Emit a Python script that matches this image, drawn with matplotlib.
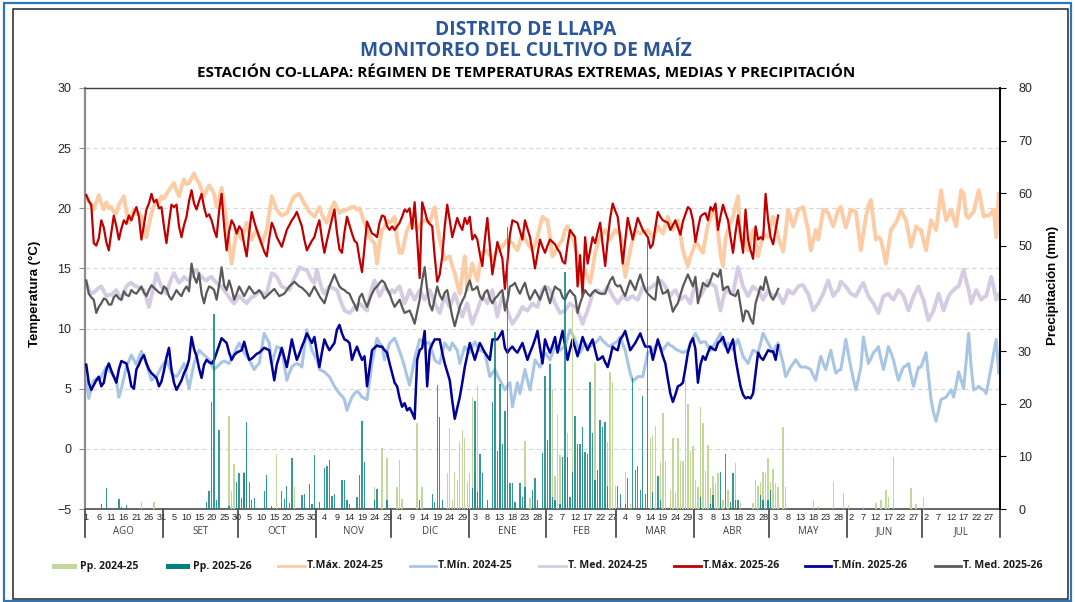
import matplotlib
matplotlib.use("Agg")
import matplotlib.pyplot as plt
from matplotlib.lines import Line2D
from matplotlib.patches import Rectangle
import numpy as np

# ---------------- data ----------------
months = ["AGO", "SET", "OCT", "NOV", "DIC", "ENE", "FEB", "MAR", "ABR", "MAY", "JUN", "JUL"]
month_days = [31, 30, 31, 30, 31, 31, 28, 31, 30, 31, 30, 31]

tmax_2425 = [
    21.0, 20.6, 20.2, 19.9, 20.5, 21.1, 20.4, 19.9, 20.5, 20.0, 20.1, 19.7, 19.6, 20.3, 20.6, 21.0, 19.8, 18.8, 19.4, 19.9, 19.5, 19.6, 19.3, 18.4, 17.6, 18.6, 19.6, 20.2, 20.7, 20.5, 21.0,
    20.8, 21.2, 21.5, 21.8, 22.1, 21.5, 21.0, 21.8, 22.4, 22.0, 22.1, 22.5, 22.9, 22.4, 22.1, 21.5, 21.0, 21.5, 21.9, 21.6, 21.2, 20.1, 20.8, 21.7, 20.3, 18.8, 17.0, 15.4, 16.8, 18.2,
    17.8, 17.4, 18.1, 18.8, 18.0, 17.4, 17.9, 18.2, 17.6, 17.0, 17.6, 18.2, 19.6, 21.0, 20.4, 19.9, 19.6, 19.4, 19.5, 19.6, 20.1, 20.6, 21.0, 21.1, 21.2, 20.8, 20.4, 20.1, 19.7, 19.5, 19.3,
    19.7, 20.1, 19.5, 19.1, 18.8, 19.5, 20.1, 20.5, 20.0, 19.6, 19.8, 19.8, 19.9, 20.0, 20.1, 20.1, 19.9, 20.0, 19.4, 18.8, 18.2, 17.6, 17.3, 17.1, 15.4, 17.1, 18.2, 18.4, 19.0, 18.8,
    19.0, 19.3, 17.5, 16.3, 16.3, 17.3, 18.2, 18.6, 19.0, 18.6, 18.2, 18.6, 18.9, 19.0, 18.9, 18.8, 19.5, 20.1, 18.6, 17.4, 16.5, 15.7, 15.9, 16.0, 15.2, 14.6, 13.7, 12.9, 14.5, 16.0, 13.2,
    14.3, 15.4, 14.7, 14.0, 15.2, 16.3, 16.4, 16.5, 16.1, 15.7, 16.1, 16.5, 16.7, 16.8, 17.1, 17.4, 17.2, 17.1, 16.8, 16.5, 17.2, 17.9, 17.5, 17.1, 16.8, 16.5, 17.0, 17.6, 18.5, 19.3, 19.1,
    19.0, 17.5, 16.0, 16.4, 16.8, 17.1, 17.4, 18.2, 18.5, 18.0, 17.6, 16.8, 16.0, 13.8, 14.3, 14.9, 14.3, 13.8, 15.0, 16.3, 17.0, 17.6, 17.9, 18.2, 17.8, 17.4, 17.8, 18.2,
    18.0, 17.9, 16.1, 14.3, 15.4, 16.5, 17.4, 18.2, 18.0, 17.9, 18.0, 18.1, 18.2, 17.9, 17.6, 18.0, 18.5, 18.2, 17.9, 18.6, 19.3, 18.7, 18.2, 18.6, 19.0, 17.8, 16.5, 15.8, 15.2, 16.0, 16.5,
    17.1, 17.0, 16.6, 16.3, 17.5, 18.6, 19.3, 19.6, 19.9, 18.0, 16.2, 15.2, 17.5, 18.2, 18.8, 19.3, 20.2, 21.0, 17.4, 17.9, 17.1, 16.5, 17.3, 18.2, 17.1, 16.0, 17.0, 17.9, 17.7, 17.6,
    18.5, 19.3, 18.5, 17.6, 17.0, 16.4, 18.1, 19.9, 19.2, 18.5, 19.2, 19.9, 20.0, 20.1, 19.1, 18.2, 16.5, 17.3, 18.2, 17.4, 18.6, 19.9, 19.8, 19.6, 19.0, 18.5, 19.2, 19.9, 20.1, 19.2, 18.4,
    19.1, 19.9, 19.8, 19.7, 18.1, 16.5, 17.9, 19.3, 20.2, 20.7, 19.0, 17.4, 17.6, 17.4, 16.4, 15.4, 16.8, 18.2, 18.5, 18.8, 19.3, 19.9, 19.4, 19.0, 17.9, 16.8, 17.6, 18.5, 18.3, 18.2,
    17.3, 16.5, 17.8, 19.0, 18.6, 18.2, 19.8, 21.5, 20.2, 19.0, 19.4, 19.9, 19.2, 18.5, 20.0, 21.5, 21.2, 19.4, 19.2, 19.5, 19.7, 20.6, 21.5, 20.4, 19.3, 19.4, 19.4, 19.6, 19.9, 17.6, 21.2,
]

tmin_2425 = [
    5.7, 4.2, 5.0, 5.7, 5.8, 5.7, 6.0, 6.4, 6.8, 6.5, 6.3, 6.0, 5.7, 4.3, 5.0, 5.9, 6.8, 7.3, 7.8, 7.4, 7.0, 7.6, 8.1, 7.6, 7.1, 6.4, 5.7, 5.9, 6.0, 6.4, 6.8,
    7.1, 7.4, 6.9, 6.3, 6.1, 6.0, 6.3, 6.7, 7.1, 6.0, 5.0, 6.1, 7.1, 7.7, 8.2, 8.0, 7.8, 7.6, 7.4, 7.0, 6.6, 6.8, 7.0, 7.2, 7.3, 7.2, 7.1, 7.5, 7.9, 8.4,
    8.8, 8.4, 8.0, 7.7, 7.4, 7.0, 6.6, 6.9, 7.1, 8.4, 9.6, 9.2, 8.8, 7.1, 7.8, 8.5, 8.4, 8.2, 7.0, 5.7, 6.3, 6.8, 7.0, 7.1, 7.0, 6.8, 8.4, 9.9, 9.0, 8.2, 7.8,
    7.4, 6.6, 6.5, 6.4, 6.2, 6.0, 5.6, 5.2, 4.9, 4.6, 4.4, 4.1, 3.2, 3.8, 4.3, 4.6, 4.8, 4.6, 4.3, 4.2, 4.1, 5.6, 7.1, 8.2, 9.2, 8.8, 8.5, 7.4, 8.1, 8.8,
    9.0, 9.2, 8.7, 8.1, 7.5, 6.8, 6.0, 5.3, 6.4, 7.5, 8.3, 9.1, 9.0, 8.9, 8.8, 8.8, 8.1, 7.4, 7.2, 7.1, 8.0, 8.8, 8.5, 8.2, 8.8, 8.5, 8.2, 7.1, 7.8, 8.5, 8.2,
    8.0, 8.5, 8.9, 8.5, 8.2, 8.1, 8.0, 7.0, 6.0, 6.3, 6.6, 6.1, 5.7, 5.3, 4.9, 5.2, 5.5, 3.5, 4.5, 5.5, 4.6, 5.6, 6.6, 5.7, 4.9, 6.1, 7.4, 7.1, 6.8, 7.4, 8.0,
    7.7, 7.4, 8.0, 8.5, 8.3, 8.2, 8.4, 8.5, 9.2, 9.9, 9.5, 9.1, 8.5, 8.0, 8.4, 8.8, 8.6, 8.5, 8.7, 8.8, 9.0, 9.3, 9.0, 8.8, 8.6, 8.5, 8.7, 8.8,
    9.0, 9.3, 8.7, 8.2, 7.2, 6.3, 5.6, 5.8, 6.0, 6.0, 6.0, 7.0, 8.0, 8.1, 8.2, 8.5, 8.8, 8.5, 8.2, 8.5, 8.8, 8.6, 8.5, 8.3, 8.2, 8.1, 8.0, 8.1, 8.2, 8.8, 9.2,
    9.6, 9.2, 8.8, 8.9, 8.9, 8.5, 8.2, 8.5, 8.8, 9.2, 9.6, 8.8, 8.5, 8.8, 8.5, 8.2, 8.7, 9.1, 8.4, 7.7, 7.4, 7.1, 7.7, 8.2, 8.1, 8.0, 8.8, 9.6, 9.2, 8.8,
    8.4, 8.0, 8.5, 8.8, 7.9, 7.1, 6.0, 6.4, 6.8, 7.1, 7.4, 7.1, 6.8, 6.8, 6.8, 6.7, 6.6, 6.1, 5.7, 6.7, 7.7, 7.1, 6.6, 7.4, 8.2, 7.2, 6.3, 6.5, 6.6, 7.8, 9.1,
    7.9, 6.8, 5.8, 4.9, 5.8, 6.8, 9.3, 8.2, 7.1, 7.5, 8.0, 8.2, 8.5, 7.5, 6.6, 7.5, 8.5, 8.0, 7.4, 6.5, 5.7, 6.3, 6.8, 6.9, 7.1, 6.1, 5.2, 6.0, 6.8, 6.8,
    7.4, 8.0, 6.0, 4.1, 3.0, 2.3, 3.2, 4.1, 4.2, 4.3, 4.6, 4.9, 4.3, 5.3, 6.4, 5.7, 5.0, 7.3, 9.6, 6.8, 4.9, 5.0, 5.2, 5.0, 4.9, 4.6, 5.7, 6.8, 8.0, 9.1, 6.3,
]

tmed_2425 = [
    13.8, 13.3, 12.9, 13.0, 13.2, 13.4, 13.5, 13.1, 12.7, 12.8, 12.8, 13.0, 13.2, 12.8, 12.4, 13.0, 13.5, 13.7, 13.8, 13.6, 13.5, 13.4, 13.3, 13.2, 12.5, 11.8, 12.7, 13.6, 14.6, 14.0, 13.5,
    13.2, 12.9, 13.6, 14.2, 14.6, 14.2, 13.8, 14.0, 14.3, 14.1, 14.0, 14.4, 14.7, 14.9, 14.5, 14.3, 14.1, 14.0, 14.2, 14.3, 14.0, 13.8, 13.6, 13.5, 13.2, 12.9, 12.6, 12.3, 12.1, 12.4,
    12.7, 12.5, 12.3, 12.1, 12.4, 12.6, 12.7, 12.9, 13.1, 13.0, 12.9, 12.9, 13.8, 14.6, 14.5, 14.3, 13.9, 13.5, 13.4, 13.3, 13.2, 13.7, 14.2, 14.6, 15.1, 15.0, 14.9, 14.9, 14.4, 14.0, 13.8,
    14.9, 14.0, 13.3, 12.9, 13.2, 13.5, 13.4, 13.3, 13.2, 12.6, 12.0, 11.5, 11.4, 11.3, 11.5, 11.8, 11.9, 12.1, 11.9, 11.7, 11.5, 12.5, 13.4, 14.0, 13.3, 12.7, 13.1, 13.5, 13.2, 12.9,
    13.2, 13.0, 13.3, 13.5, 12.8, 12.1, 12.6, 13.2, 12.8, 12.4, 12.8, 13.2, 12.8, 12.4, 12.8, 13.2, 12.7, 12.1, 11.7, 11.3, 12.0, 12.7, 12.2, 11.8, 12.3, 12.9, 12.3, 11.6, 11.0, 11.6, 12.1,
    11.2, 10.4, 11.0, 11.5, 12.1, 12.7, 12.4, 12.1, 12.7, 13.2, 12.1, 11.0, 11.9, 12.7, 12.1, 11.5, 10.9, 10.4, 10.7, 11.0, 11.4, 11.8, 11.6, 11.5, 11.8, 12.1, 11.9, 11.8, 12.5, 13.2, 13.5,
    13.4, 13.2, 12.6, 12.1, 11.7, 11.3, 11.4, 11.5, 11.8, 12.1, 11.9, 11.8, 11.4, 11.0, 10.4, 11.0, 11.5, 12.2, 12.9, 13.1, 13.2, 13.0, 12.9, 13.2, 13.5, 13.1, 12.7, 12.4,
    12.1, 12.4, 12.7, 12.5, 12.4, 12.6, 12.7, 12.5, 12.4, 12.9, 13.5, 13.3, 13.2, 13.4, 13.5, 13.7, 13.8, 14.0, 13.8, 13.5, 13.1, 12.7, 13.0, 13.2, 12.8, 12.4, 12.6, 12.7, 12.4, 12.1, 13.0,
    13.5, 13.1, 12.7, 13.1, 13.5, 14.0, 13.8, 13.6, 13.5, 12.5, 11.5, 12.4, 13.2, 13.1, 13.0, 12.9, 14.0, 15.1, 14.3, 13.5, 13.1, 12.7, 13.1, 13.5, 13.3, 13.2, 12.8, 12.4, 12.8, 13.2,
    12.9, 12.7, 12.8, 12.9, 12.5, 12.1, 12.6, 13.2, 13.0, 12.9, 13.2, 13.5, 13.6, 13.6, 13.2, 12.9, 12.2, 11.5, 11.8, 12.1, 12.5, 12.9, 13.5, 14.0, 13.3, 12.7, 13.0, 13.2, 13.9, 13.7, 13.5,
    13.2, 12.9, 12.8, 12.7, 13.1, 13.5, 13.8, 13.2, 12.7, 12.4, 12.1, 11.7, 11.3, 12.0, 12.7, 12.8, 12.9, 12.6, 12.4, 12.8, 13.2, 13.0, 12.7, 12.1, 11.5, 12.1, 12.7, 13.1, 13.5, 12.9,
    12.4, 11.5, 10.7, 11.1, 11.5, 12.2, 12.9, 12.2, 11.5, 12.1, 12.7, 13.0, 13.2, 13.4, 13.5, 14.2, 14.9, 14.0, 13.2, 12.1, 12.7, 13.2, 12.8, 12.4, 12.6, 12.7, 13.5, 14.3, 13.4, 12.4, 12.8,
]

tmax_2526 = [
    21.1, 20.6, 20.3, 17.1, 16.9, 17.5, 19.0, 18.4, 17.2, 16.5, 18.0, 19.4, 18.5, 17.4, 18.3, 19.0, 18.7, 19.4, 19.0, 19.6, 20.1, 19.3, 17.4, 18.6, 19.9, 20.4, 21.2, 20.5, 20.7, 20.0, 20.1,
    18.5, 17.1, 18.8, 20.3, 20.1, 20.3, 18.5, 17.6, 18.6, 19.3, 20.6, 21.5, 20.4, 19.9, 20.6, 21.2, 20.1, 19.3, 19.5, 19.0, 18.2, 17.6, 19.8, 21.2, 18.5, 16.5, 18.1, 19.0, 18.6, 17.9,
    18.5, 18.2, 17.0, 16.0, 18.0, 19.7, 18.9, 18.2, 17.6, 17.0, 16.4, 16.0, 17.5, 18.8, 18.3, 17.6, 17.2, 16.8, 17.5, 18.2, 18.6, 19.0, 19.3, 19.7, 19.1, 18.5, 17.4, 16.5, 16.9, 17.3, 17.6,
    18.4, 19.0, 17.5, 16.3, 17.3, 18.2, 19.1, 19.9, 18.0, 16.6, 16.3, 18.0, 19.3, 18.6, 17.9, 17.3, 17.1, 15.8, 14.7, 16.8, 18.9, 18.4, 17.9, 17.8, 17.6, 18.8, 19.4, 19.3, 18.5, 18.2,
    18.5, 18.2, 18.5, 18.8, 19.3, 19.9, 19.7, 20.0, 18.3, 20.5, 17.5, 14.2, 20.5, 19.8, 19.0, 18.7, 18.5, 16.0, 13.9, 14.5, 16.0, 18.5, 20.3, 19.0, 17.6, 18.4, 19.2, 18.6, 18.2, 19.2, 18.7,
    19.3, 17.4, 17.8, 17.4, 16.2, 15.2, 17.4, 19.2, 16.8, 14.5, 15.8, 17.2, 16.5, 15.8, 13.3, 15.5, 17.8, 19.0, 18.9, 18.8, 18.1, 17.4, 19.0, 18.3, 17.6, 16.4, 15.0, 16.2, 17.4, 16.8, 16.3,
    16.9, 17.4, 17.2, 17.0, 16.6, 16.3, 15.6, 15.4, 17.0, 18.2, 17.9, 17.6, 13.5, 16.1, 12.7, 17.6, 15.4, 16.5, 17.6, 17.1, 18.0, 18.8, 17.0, 15.2, 17.3, 19.2, 20.4, 19.8,
    19.3, 17.5, 15.4, 17.3, 19.2, 18.3, 17.4, 18.3, 19.2, 18.7, 18.2, 17.9, 17.6, 16.7, 17.0, 18.4, 19.7, 19.3, 19.0, 18.9, 18.8, 18.2, 18.6, 19.0, 18.4, 17.8, 18.9, 19.5, 20.1, 19.9, 19.0,
    17.2, 18.3, 19.3, 19.5, 19.6, 19.0, 20.1, 19.8, 20.4, 18.2, 19.3, 20.3, 19.6, 19.0, 17.6, 16.3, 18.0, 19.4, 17.8, 16.3, 19.9, 17.4, 16.5, 15.8, 18.5, 17.4, 17.6, 17.4, 21.2, 19.0,
    17.6, 17.0, 18.2, 19.4,
]

tmin_2526 = [
    7.0, 5.5, 4.9, 5.3, 5.7, 6.0, 5.2, 5.5, 6.6, 7.1, 6.5, 6.0, 5.5, 6.6, 7.3, 7.2, 7.1, 6.3, 5.2, 5.0, 6.6, 7.0, 7.5, 7.8, 7.1, 6.6, 6.3, 6.1, 5.9, 5.2, 5.6,
    6.5, 7.6, 8.4, 6.6, 5.5, 4.9, 5.3, 5.7, 6.3, 6.7, 7.4, 9.3, 8.3, 7.7, 6.7, 5.9, 7.0, 7.4, 7.2, 7.1, 7.4, 8.0, 8.6, 9.2, 9.0, 8.8, 8.0, 7.4, 7.8, 8.0,
    8.1, 8.2, 8.9, 8.1, 7.4, 7.5, 7.7, 7.9, 8.0, 8.2, 8.4, 8.3, 8.2, 7.0, 5.7, 7.0, 7.7, 8.4, 7.6, 6.8, 7.9, 9.1, 8.2, 7.4, 7.9, 8.5, 9.0, 9.6, 9.2, 8.8, 9.3,
    8.0, 6.8, 8.0, 9.1, 8.6, 8.2, 8.5, 8.8, 9.9, 10.3, 9.6, 9.1, 9.0, 8.8, 7.4, 8.0, 8.5, 7.9, 7.4, 7.7, 5.2, 6.7, 8.2, 8.4, 8.6, 8.5, 8.5, 8.2, 8.0, 7.1,
    6.3, 5.5, 5.2, 4.2, 3.5, 3.8, 3.2, 3.4, 3.0, 2.5, 7.4, 8.2, 8.4, 9.8, 5.2, 8.2, 8.7, 9.1, 9.1, 9.1, 8.0, 7.1, 6.4, 5.7, 4.0, 2.5, 3.4, 4.3, 5.5, 6.8, 7.8,
    8.8, 8.1, 7.4, 8.1, 8.8, 8.4, 8.0, 7.7, 7.4, 9.1, 9.1, 9.1, 9.4, 9.8, 8.4, 8.0, 8.3, 8.5, 8.2, 8.0, 8.4, 8.8, 8.1, 7.4, 8.0, 8.5, 9.1, 9.8, 8.4, 7.1, 9.1,
    8.5, 8.0, 8.6, 9.3, 8.0, 8.9, 9.8, 8.6, 7.4, 8.3, 9.1, 8.4, 7.7, 8.5, 9.3, 8.7, 8.2, 8.7, 9.1, 8.2, 7.4, 7.5, 7.7, 7.2, 6.8, 7.6, 8.5, 8.3,
    8.2, 9.1, 9.4, 9.8, 9.0, 8.2, 8.5, 8.8, 9.2, 9.6, 9.0, 8.5, 8.5, 8.5, 7.4, 8.2, 9.1, 8.4, 7.7, 7.1, 5.8, 4.6, 3.9, 4.5, 5.2, 5.3, 5.5, 6.7, 8.0, 8.8, 9.2,
    8.3, 5.5, 7.0, 7.7, 7.4, 8.0, 8.5, 8.3, 8.2, 8.8, 9.0, 9.3, 8.6, 8.0, 8.6, 9.1, 7.5, 6.3, 5.2, 4.5, 4.2, 4.3, 4.2, 4.6, 6.3, 8.0, 7.6, 7.4, 7.8, 8.2,
    8.1, 8.1, 7.4, 8.6,
]

tmed_2526 = [
    14.0, 12.9, 12.6, 12.4, 11.3, 11.8, 12.1, 12.5, 12.4, 12.0, 12.0, 12.6, 12.8, 12.5, 12.4, 13.1, 12.8, 12.7, 13.2, 13.0, 12.9, 13.2, 13.5, 13.0, 12.7, 13.2, 13.6, 13.4, 13.2, 13.0, 12.9,
    13.5, 13.3, 12.7, 12.4, 12.8, 13.2, 12.9, 12.7, 13.2, 13.5, 13.1, 15.4, 14.3, 13.8, 14.6, 12.9, 12.1, 13.0, 13.5, 13.4, 13.2, 12.4, 13.6, 15.1, 13.6, 13.2, 14.0, 13.3, 12.4, 12.9,
    13.5, 13.1, 12.7, 13.1, 13.5, 13.2, 12.9, 13.0, 13.2, 12.9, 12.5, 12.7, 12.9, 13.1, 13.3, 13.0, 12.7, 12.8, 12.9, 13.2, 13.5, 13.7, 13.9, 13.7, 13.5, 13.4, 13.2, 13.0, 12.7, 13.1, 13.5,
    13.1, 12.7, 12.4, 12.1, 12.8, 13.5, 14.0, 14.5, 14.0, 13.5, 13.3, 13.2, 13.0, 12.9, 12.4, 12.0, 11.5, 12.6, 12.9, 12.3, 11.8, 12.4, 12.9, 13.3, 13.5, 13.8, 14.0, 13.8, 13.3, 12.9,
    12.3, 11.8, 12.1, 12.4, 11.8, 11.3, 11.4, 11.5, 11.0, 10.4, 11.4, 12.4, 14.0, 15.1, 13.2, 12.0, 11.5, 12.5, 13.5, 12.8, 12.4, 13.0, 13.2, 12.1, 11.0, 10.2, 11.0, 11.8, 12.3, 12.7, 13.5,
    14.0, 13.2, 13.3, 13.5, 12.7, 12.4, 13.0, 13.2, 12.5, 12.1, 12.5, 12.7, 13.0, 13.2, 11.5, 12.3, 13.5, 13.6, 13.8, 13.3, 12.9, 13.4, 13.8, 13.0, 12.4, 12.8, 13.2, 12.8, 12.4, 13.0, 13.5,
    12.8, 12.1, 12.9, 13.5, 13.3, 13.2, 12.6, 12.4, 12.9, 13.2, 12.9, 12.7, 11.3, 12.1, 12.7, 13.2, 12.9, 12.7, 13.0, 13.2, 13.0, 12.9, 12.9, 12.9, 13.5, 14.0, 14.3, 13.7,
    13.5, 13.6, 13.1, 12.7, 13.4, 14.0, 13.6, 13.2, 13.9, 14.5, 13.8, 13.2, 12.9, 12.7, 12.5, 12.4, 14.3, 13.6, 12.9, 13.0, 13.2, 12.3, 11.4, 11.8, 12.1, 12.8, 13.5, 14.0, 14.5, 14.0, 13.5,
    14.3, 12.1, 12.9, 13.8, 13.6, 13.5, 14.0, 14.6, 14.5, 14.3, 14.9, 13.2, 13.4, 13.5, 12.9, 12.8, 12.7, 13.2, 11.9, 10.6, 11.5, 11.4, 10.8, 10.4, 12.1, 12.8, 13.5, 13.2, 14.3, 13.5,
    12.7, 12.4, 12.8, 13.3,
]

# precipitation: day index (0 = 1 Aug) and mm
pp_2425_day = [22, 27, 57, 58, 59, 63, 64, 72, 76, 83, 115, 118, 120, 124, 125, 126, 132, 134,
               144, 145, 146, 147, 148, 149, 150, 151, 152, 153, 154, 155, 156, 158, 165, 175, 177,
               186, 187, 188, 189, 192, 194, 198, 203, 208, 209, 210, 211, 213, 215, 217,
               224, 225, 226, 227, 229, 230, 231, 233, 234, 235, 236, 237, 238, 239, 240, 241, 242,
               243, 244, 245, 246, 247, 248, 249, 250, 251, 252, 253, 254, 256, 259, 261,
               266, 267, 268, 269, 270, 271, 272, 273, 274, 275, 276, 278, 279,
               290, 292, 298, 302, 304, 310, 315, 317, 319, 320, 322, 329, 331, 334]
pp_2425_mm = [1.3, 1.4, 17.7, 3.4, 8.5, 7.1, 14.2, 5.5, 10.5, 4.1, 4.2, 11.6, 9.6, 4.2, 9.3, 1.9, 16.3, 4.2,
              6.8, 15.3, 1.8, 7.1, 5.6, 12.8, 15.1, 13.4, 5.2, 6.8, 21.2, 7.1, 23.4, 5.0, 12.4, 12.9, 2.0,
              22.6, 6.2, 17.9, 10.2, 14.5, 38.0, 10.5, 27.7, 12.8, 26.1, 24.2, 4.4, 1.0, 7.1, 1.0,
              10.8, 13.4, 14.1, 15.7, 8.9, 18.2, 9.2, 3.6, 13.4, 3.1, 13.4, 9.1, 9.2, 24.5, 19.9, 11.1, 12.0,
              5.5, 4.2, 19.4, 16.3, 7.3, 12.2, 4.0, 6.2, 4.9, 6.8, 1.7, 1.8, 3.6, 8.8, 1.4,
              1.2, 5.6, 4.4, 5.2, 7.1, 6.8, 9.6, 5.2, 7.6, 4.9, 4.2, 15.6, 4.2,
              1.7, 0.6, 5.2, 3.1, 0.7, 0.3, 1.2, 1.8, 3.6, 2.3, 9.8, 3.9, 0.9, 2.3]

pp_2526_day = [6, 8, 13, 14, 16, 48, 49, 50, 51, 52, 53, 57, 60, 61, 62, 63, 64, 65, 66, 67, 71, 72, 74,
               78, 79, 80, 81, 82, 86, 87, 89, 90, 91, 93, 95, 96, 97, 98, 99, 102, 103, 104, 105,
               108, 109, 110, 111, 115, 116, 120, 133, 138, 139, 140, 141, 142,
               154, 155, 156, 157, 158, 160, 162, 163, 164, 165, 166, 167, 168, 169, 170, 171, 173, 174, 175,
               178, 179, 180, 182, 183, 184, 185, 186, 187, 189, 190, 191, 192, 193, 194, 195, 196, 197,
               198, 199, 200, 201, 202, 203, 204, 205, 206, 207, 208, 212, 213, 215, 216, 218, 219, 220,
               221, 222, 223, 224, 226, 228, 229, 245, 249, 250, 253, 255, 257, 258, 259, 260, 269, 270, 272, 273]
pp_2526_mm = [1.0, 4.0, 1.9, 0.3, 0.8, 1.4, 3.4, 20.4, 37.0, 1.8, 15.1, 0.5, 5.2, 6.8, 2.1, 6.9, 16.5, 5.2, 1.7, 2.1, 3.5, 6.4, 0.6,
              3.5, 1.9, 4.4, 1.1, 9.6, 2.7, 2.8, 4.7, 1.0, 10.2, 1.3, 7.8, 8.1, 9.3, 2.5, 2.8, 5.5, 5.5, 1.7, 0.9,
              2.2, 6.4, 16.7, 8.9, 1.7, 3.8, 1.7, 1.8, 2.8, 1.4, 23.6, 17.4, 1.7,
              3.9, 20.6, 3.3, 10.5, 6.8, 1.7, 20.3, 33.6, 11.1, 23.7, 12.3, 18.6, 53.6, 5.0, 4.9, 1.4, 5.0, 2.3, 4.2,
              3.6, 5.8, 1.7, 10.7, 25.3, 13.2, 27.6, 2.3, 1.7, 1.0, 9.8, 45.1, 9.8, 2.3, 7.1, 17.6, 12.4, 12.4,
              15.6, 10.8, 10.5, 24.2, 14.5, 5.5, 7.4, 16.9, 15.6, 16.6, 4.4, 4.4, 2.8, 1.0, 5.8, 24.8, 7.4, 8.1,
              3.6, 21.5, 2.8, 51.1, 3.3, 6.2, 1.7, 2.2, 1.0, 2.6, 7.1, 10.4, 1.4, 6.8, 1.7, 1.8, 2.6, 1.7, 1.7, 3.6]

assert len(tmax_2425) == len(tmin_2425) == len(tmed_2425) == 365
assert len(tmax_2526) == len(tmin_2526) == len(tmed_2526) == 277
assert len(pp_2425_day) == len(pp_2425_mm)
assert len(pp_2526_day) == len(pp_2526_mm)

# ---------------- figure ----------------
W, H = 1075, 602
fig = plt.figure(figsize=(W / 100, H / 100), dpi=100)
fig.patch.set_facecolor("white")


def fx(px):
    return px / W


def fy(py):
    return 1 - py / H


ax_l, ax_r, ax_t, ax_b = 85, 1000, 88, 509
ax = fig.add_axes([fx(ax_l), fy(ax_b), (ax_r - ax_l) / W, (ax_b - ax_t) / H])
ax.set_facecolor("none")
n_days = sum(month_days)
ax.set_xlim(0, n_days)
ax.set_ylim(-5, 30)
ax.set_yticks(range(-5, 31, 5))
ax.yaxis.grid(True, linestyle=(0, (4, 3)), color="#d6d6d6", linewidth=0.8)
ax.set_axisbelow(True)

c_tmax_old = "#FCCCA4"
c_tmin_old = "#A9C5E4"
c_tmed_old = "#D5CCE3"
c_tmax_new = "#C00000"
c_tmin_new = "#000099"
c_tmed_new = "#595959"
c_pp_old = "#C4D79B"
c_pp_new = "#008080"

x_old = np.arange(len(tmax_2425)) + 0.5
x_new = np.arange(len(tmax_2526)) + 0.5
ax.plot(x_old, tmax_2425, color=c_tmax_old, lw=2.8, zorder=2, solid_joinstyle="round")
ax.plot(x_old, tmed_2425, color=c_tmed_old, lw=2.8, zorder=2, solid_joinstyle="round")
ax.plot(x_old, tmin_2425, color=c_tmin_old, lw=2.2, zorder=2, solid_joinstyle="round")
ax.plot(x_new, tmax_2526, color=c_tmax_new, lw=1.6, zorder=3, solid_joinstyle="round")
ax.plot(x_new, tmin_2526, color=c_tmin_new, lw=1.8, zorder=3, solid_joinstyle="round")
ax.plot(x_new, tmed_2526, color=c_tmed_new, lw=1.6, zorder=3, solid_joinstyle="round")

ax2 = ax.twinx()
ax2.set_ylim(0, 80)
ax2.set_yticks(range(0, 81, 10))
ax2.bar(np.array(pp_2425_day) + 0.5, pp_2425_mm, width=0.55, color=c_pp_old, linewidth=0)
ax2.bar(np.array(pp_2526_day) + 0.5, pp_2526_mm, width=0.55, color=c_pp_new, linewidth=0, alpha=0.8)

# spines & ticks
for sp in ("top", "bottom", "left", "right"):
    ax2.spines[sp].set_visible(False)
ax.spines["left"].set_color("#8c8c8c")
ax.spines["left"].set_linewidth(1.6)
ax.spines["bottom"].set_color("#595959")
ax.spines["bottom"].set_linewidth(1.3)
ax.spines["top"].set_color("#404040")
ax.spines["top"].set_linewidth(1.0)
ax.spines["right"].set_visible(False)
ax2.spines["right"].set_visible(True)
ax2.spines["right"].set_color("black")
ax2.spines["right"].set_linewidth(1.4)

ax.tick_params(axis="y", direction="out", length=4, width=0.8, color="#8c8c8c",
               labelsize=9, labelcolor="#262626", pad=6)
ax2.tick_params(axis="y", direction="out", length=4, width=0.8, color="black",
                labelsize=9, labelcolor="#262626", pad=9)
for lab in ax.get_yticklabels() + ax2.get_yticklabels():
    lab.set_family("Liberation Sans")

# x tick labels: every 5th day, showing day of month
day_of_month = []
for md in month_days:
    day_of_month.extend(range(1, md + 1))
tick_idx = np.arange(0, n_days, 5)
ax.set_xticks(tick_idx + 0.5)
ax.set_xticklabels([str(day_of_month[i]) for i in tick_idx], family="Liberation Sans",
                   fontsize=6.6, color="#262626")
ax.tick_params(axis="x", length=0, pad=3)

# month separators and names
bounds = np.concatenate([[0], np.cumsum(month_days)])
trans = ax.get_xaxis_transform()
sep_depth = (537 - ax_b) / (ax_b - ax_t)
name_y = -(532 - ax_b) / (ax_b - ax_t)
for b in bounds:
    ax.add_line(Line2D([b, b], [0, -sep_depth], transform=trans, color="#404040",
                       lw=1.2, clip_on=False))
for i, m in enumerate(months):
    ax.text((bounds[i] + bounds[i + 1]) / 2, name_y, m, transform=trans, ha="center",
            va="center", fontsize=7, color="#404040", family="Open Sans")

# axis titles
fig.text(fx(35), fy(294), "Temperatura (°C)", rotation=90, ha="center", va="center",
         fontsize=9.5, fontweight="bold", family="Liberation Sans")
fig.text(fx(1053), fy(285), "Precipitación (mm)", rotation=90, ha="center", va="center",
         fontsize=9.5, fontweight="bold", family="Liberation Sans")

# titles
title_blue = "#2B579A"
fig.text(fx(526), fy(30), "DISTRITO DE LLAPA", ha="center", va="center", fontsize=13.8,
         fontweight="bold", color=title_blue, family="Open Sans")
fig.text(fx(526), fy(51), "MONITOREO DEL CULTIVO DE MAÍZ", ha="center", va="center",
         fontsize=13.8, fontweight="bold", color=title_blue, family="Open Sans")
fig.text(fx(526), fy(72), "ESTACIÓN CO-LLAPA: RÉGIMEN DE TEMPERATURAS EXTREMAS, MEDIAS Y PRECIPITACIÓN",
         ha="center", va="center", fontsize=11, fontweight="bold", color="black", family="Open Sans")

# legend (manual)
leg_y = 566
legend_items = [
    ("patch", c_pp_old, 52, 77, 80, "Pp. 2024-25"),
    ("patch", c_pp_new, 166, 190, 193, "Pp. 2025-26"),
    ("line", c_tmax_old, 278, 305, 307, "T.Máx. 2024-25"),
    ("line", c_tmin_old, 410, 436, 438, "T.Mín. 2024-25"),
    ("line", c_tmed_old, 539, 566, 568, "T. Med. 2024-25"),
    ("line", c_tmax_new, 674, 701, 703, "T.Máx. 2025-26"),
    ("line", c_tmin_new, 805, 831, 833, "T.Mín. 2025-26"),
    ("line", c_tmed_new, 935, 961, 963, "T. Med. 2025-26"),
]
for kind, col, x0, x1, xt, label in legend_items:
    if kind == "patch":
        fig.add_artist(Rectangle((fx(x0), fy(leg_y + 2.5)), (x1 - x0) / W, 5 / H,
                                 transform=fig.transFigure, facecolor=col, edgecolor="none"))
    else:
        fig.add_artist(Line2D([fx(x0), fx(x1)], [fy(leg_y), fy(leg_y)], transform=fig.transFigure,
                              color=col, lw=2.0))
    fig.text(fx(xt), fy(leg_y), label, ha="left", va="center", fontsize=7.6, fontweight="bold",
             color="#1a1a1a", family="Open Sans")

# frames
fig.add_artist(Rectangle((fx(4), fy(601)), (1071 - 4) / W, (601 - 3) / H, transform=fig.transFigure,
                         fill=False, edgecolor="#2E75B6", lw=1.6))
fig.add_artist(Rectangle((fx(13), fy(599)), (1068 - 13) / W, (599 - 9) / H, transform=fig.transFigure,
                         fill=False, edgecolor="#262626", lw=1.1))

fig.savefig("out.png", dpi=100)
